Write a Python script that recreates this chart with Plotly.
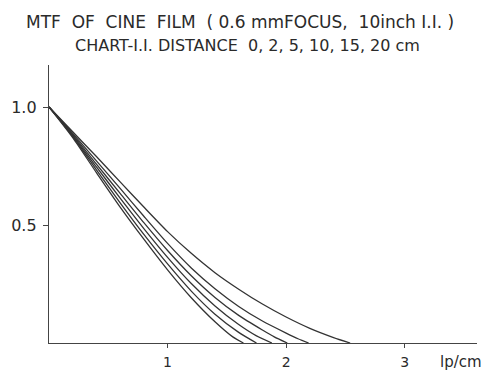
import plotly.graph_objects as go

# MTF curves for chart-I.I. distances
distances = ["0 cm", "2 cm", "5 cm", "10 cm", "15 cm", "20 cm"]

x_a = [0, 0.2, 0.4, 0.6, 0.8, 1.0, 1.2, 1.4, 1.6, 1.8, 2.0, 2.2, 2.4, 2.54]
y_a = [1.0, 0.895, 0.79, 0.683, 0.576, 0.472, 0.38, 0.298, 0.228, 0.165, 0.11, 0.062, 0.023, 0.0]

x_b = [0, 0.2, 0.4, 0.6, 0.8, 1.0, 1.2, 1.4, 1.6, 1.8, 2.0, 2.1, 2.19]
y_b = [1.0, 0.888, 0.772, 0.655, 0.537, 0.422, 0.318, 0.23, 0.155, 0.093, 0.042, 0.018, 0.0]

x_c = [0, 0.2, 0.4, 0.6, 0.8, 1.0, 1.2, 1.4, 1.6, 1.8, 1.9, 2.01]
y_c = [1.0, 0.883, 0.758, 0.634, 0.51, 0.392, 0.285, 0.193, 0.117, 0.055, 0.026, 0.0]

x_d = [0, 0.2, 0.4, 0.6, 0.8, 1.0, 1.2, 1.4, 1.6, 1.75, 1.88]
y_d = [1.0, 0.879, 0.746, 0.614, 0.485, 0.363, 0.252, 0.157, 0.078, 0.03, 0.0]

x_e = [0, 0.2, 0.4, 0.6, 0.8, 1.0, 1.2, 1.4, 1.6, 1.75]
y_e = [1.0, 0.875, 0.734, 0.594, 0.46, 0.335, 0.22, 0.122, 0.045, 0.0]

x_f = [0, 0.2, 0.4, 0.6, 0.8, 1.0, 1.2, 1.4, 1.55, 1.64]
y_f = [1.0, 0.87, 0.722, 0.576, 0.44, 0.31, 0.192, 0.09, 0.026, 0.0]

series_x = [x_a, x_b, x_c, x_d, x_e, x_f]
series_y = [y_a, y_b, y_c, y_d, y_e, y_f]

x_tickvals = [1, 2, 3]
x_ticktext = ["1", "2", "3"]
y_tickvals = [0.5, 1.0]
y_ticktext = ["0.5", "1.0"]

title_line1 = "MTF  OF  CINE  FILM  ( 0.6 mmFOCUS,  10inch I.I. )"
title_line2 = "CHART-I.I. DISTANCE  0, 2, 5, 10, 15, 20 cm"
x_unit = "lp/cm"

FONT = "DejaVu Sans"
INK = "#2a2a2a"

fig = go.Figure()
for xs, ys, name in zip(series_x, series_y, distances):
    fig.add_trace(go.Scatter(
        x=xs, y=ys, mode="lines", name=name,
        line=dict(color="#333333", width=1.3, shape="spline", smoothing=0.7),
        showlegend=False, hoverinfo="skip",
    ))

fig.update_layout(
    template="none",
    width=484, height=374,
    margin=dict(l=49, r=7, t=65, b=31),
    paper_bgcolor="white", plot_bgcolor="white",
    font=dict(family=FONT, size=16, color=INK),
    xaxis=dict(
        automargin=False,
        range=[0, 3.61], showgrid=False, zeroline=False,
        showline=True, linecolor="#444444", linewidth=1.3,
        tickmode="array", tickvals=x_tickvals, ticktext=x_ticktext,
        ticks="outside", ticklen=4, tickcolor="#444444", tickwidth=1.3,
        ticklabelstandoff=2,
        tickfont=dict(family=FONT, size=14, color=INK),
    ),
    yaxis=dict(
        automargin=False,
        range=[0, 1.178], showgrid=False, zeroline=False,
        showline=True, linecolor="#444444", linewidth=1.3,
        tickmode="array", tickvals=y_tickvals, ticktext=y_ticktext,
        ticks="outside", ticklen=5, tickcolor="#444444", tickwidth=1.3,
        ticklabelstandoff=3,
        tickfont=dict(family=FONT, size=16, color=INK),
    ),
    annotations=[
        dict(text=title_line1, xref="paper", yref="paper",
             x=(240 - 49) / 428, y=(343 - 22) / 278, xanchor="center", yanchor="middle",
             showarrow=False, font=dict(family=FONT, size=17, color=INK)),
        dict(text=title_line2, xref="paper", yref="paper",
             x=(247 - 49) / 428, y=(343 - 45) / 278, xanchor="center", yanchor="middle",
             showarrow=False, font=dict(family=FONT, size=16, color=INK)),
        dict(text=x_unit, xref="paper", yref="paper",
             x=(484 - 49) / 428, y=(343 - 362) / 278, xanchor="right", yanchor="middle",
             showarrow=False, font=dict(family=FONT, size=15, color=INK)),
    ],
)

fig.write_html("out.html")
